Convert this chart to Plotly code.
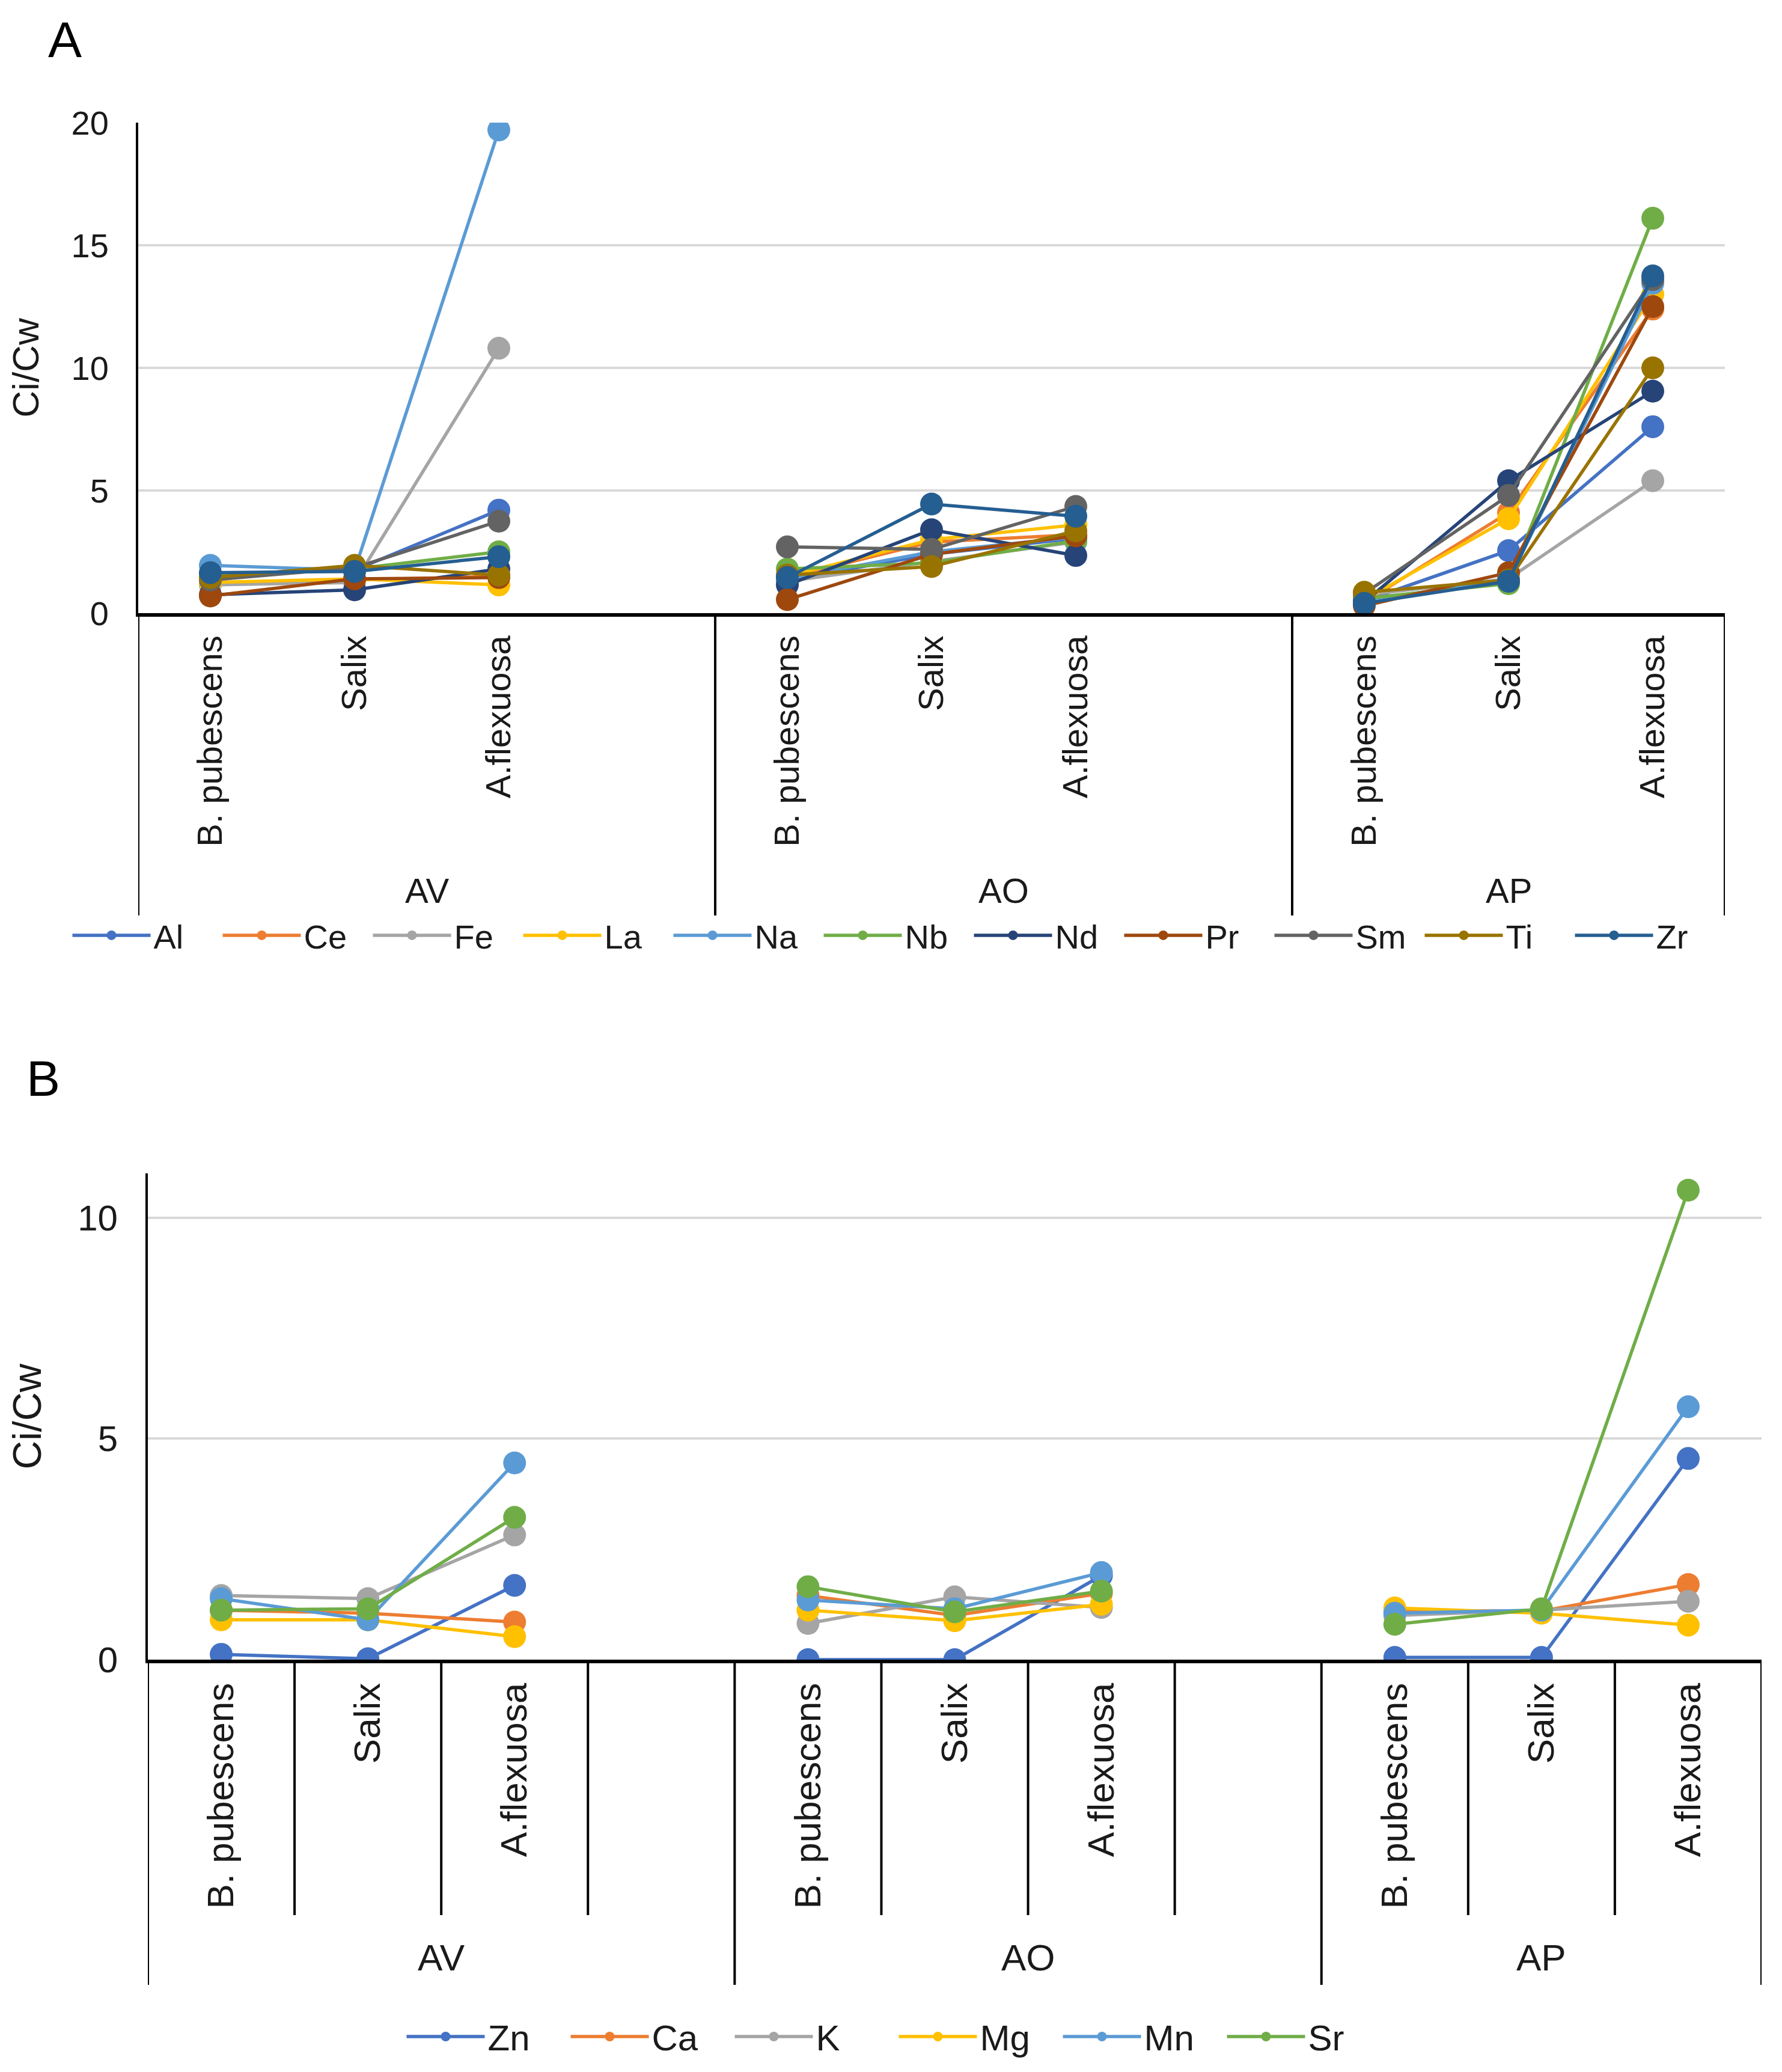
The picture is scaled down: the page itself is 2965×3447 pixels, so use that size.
import plotly.graph_objects as go

# ---------------- data ----------------
groups = ["AV", "AO", "AP"]
species = ["B. pubescens", "Salix", "A.flexuosa"]

# Panel A values: AV(B,S,A), AO(B,S,A), AP(B,S,A)
elements_a = ["Al", "Ce", "Fe", "La", "Na", "Nb", "Nd", "Pr", "Sm", "Ti", "Zr"]
Al = [1.60, 1.75, 4.20, 1.35, 2.40, 3.05, 0.50, 2.55, 7.60]
Ce = [1.20, 1.35, 1.50, 1.45, 2.90, 3.20, 0.45, 4.10, 12.40]
Fe = [1.15, 1.25, 10.80, 1.30, 2.10, 2.90, 0.75, 1.40, 5.40]
La = [1.25, 1.40, 1.15, 1.50, 3.00, 3.60, 0.55, 3.85, 13.00]
Na = [1.95, 1.75, 19.70, 1.40, 2.50, 3.10, 0.55, 1.30, 13.45]
Nb = [1.50, 1.80, 2.50, 1.80, 2.05, 2.95, 0.60, 1.20, 16.10]
Nd = [0.75, 0.95, 1.80, 1.15, 3.40, 2.35, 0.45, 5.40, 9.05]
Pr = [0.70, 1.40, 1.45, 0.55, 2.40, 3.15, 0.30, 1.65, 12.50]
Sm = [1.35, 1.85, 3.75, 2.70, 2.60, 4.35, 0.80, 4.80, 13.60]
Ti = [1.45, 1.95, 1.55, 1.55, 1.90, 3.35, 0.85, 1.35, 10.00]
Zr = [1.65, 1.70, 2.30, 1.45, 4.45, 3.95, 0.40, 1.30, 13.75]
values_a = [Al, Ce, Fe, La, Na, Nb, Nd, Pr, Sm, Ti, Zr]
colors_a = ["#4472C4", "#ED7D31", "#A5A5A5", "#FFC000", "#5B9BD5", "#70AD47",
            "#264478", "#9E480E", "#636363", "#997300", "#255E91"]

# Panel B values
elements_b = ["Zn", "Ca", "K", "Mg", "Mn", "Sr"]
Zn = [0.12, 0.02, 1.68, 0.00, 0.00, 1.90, 0.05, 0.05, 4.55]
Ca = [1.12, 1.05, 0.85, 1.45, 1.00, 1.50, 1.10, 1.10, 1.70]
K = [1.45, 1.38, 2.82, 0.82, 1.42, 1.18, 1.00, 1.12, 1.32]
Mg = [0.90, 0.90, 0.52, 1.12, 0.88, 1.25, 1.17, 1.05, 0.78]
Mn = [1.38, 0.90, 4.45, 1.35, 1.15, 1.97, 1.05, 1.12, 5.72]
Sr = [1.12, 1.15, 3.22, 1.65, 1.08, 1.55, 0.80, 1.15, 10.62]
values_b = [Zn, Ca, K, Mg, Mn, Sr]
colors_b = ["#4472C4", "#ED7D31", "#A5A5A5", "#FFC000", "#5B9BD5", "#70AD47"]

# ---------------- layout constants ----------------
W, H = 2965, 3447
FONT = "Liberation Sans, Arial, sans-serif"
TXT = "#1a1a1a"
SLOTS = 4  # AV and AO have an empty 4th slot; AP has 3


def positions():
    pos = []
    for g in range(len(groups)):
        for s in range(len(species)):
            pos.append(g * SLOTS + s)
    return pos


POS = positions()
NCAT = (len(groups) - 1) * SLOTS + len(species)  # 11
XALL = list(range(NCAT))


def expand(vals):
    y = [None] * NCAT
    for p, v in zip(POS, vals):
        y[p] = v
    return y


fig = go.Figure()

for name, vals, col in zip(elements_a, values_a, colors_a):
    fig.add_trace(go.Scatter(
        x=XALL, y=expand(vals), mode="lines+markers", name=name,
        line=dict(color=col, width=5.5), marker=dict(color=col, size=38),
        xaxis="x", yaxis="y", legend="legend", connectgaps=False))

for name, vals, col in zip(elements_b, values_b, colors_b):
    fig.add_trace(go.Scatter(
        x=XALL, y=expand(vals), mode="lines+markers", name=name,
        line=dict(color=col, width=5.5), marker=dict(color=col, size=38),
        xaxis="x2", yaxis="y2", legend="legend2", connectgaps=False))

# domains in paper coordinates (margins = 0)
A_x = [222 / W, 2862 / W]
A_y = [1 - 1012 / H, 1 - 196 / H]
A_bottom = 1 - 1515 / H
B_x = [238 / W, 2923 / W]
B_y = [1 - 2753 / H, 1 - 1944 / H]
B_tick_bottom = 1 - 3178 / H
B_bottom = 1 - 3294 / H

xr = [-0.5, NCAT - 0.5]

common_x = dict(range=xr, showgrid=False, zeroline=False, showline=True,
                linecolor="black", linewidth=6, ticks="", tickangle=-90,
                tickvals=POS, ticktext=species * len(groups),
                ticklabelstandoff=8, fixedrange=True, automargin=False)
common_y = dict(showgrid=True, gridcolor="#D9D9D9", gridwidth=4,
                zeroline=False, showline=True, linecolor="black", linewidth=4,
                ticks="", ticklabelstandoff=34, automargin=False,
                fixedrange=True)

fig.update_layout(
    template="none",
    width=W, height=H, margin=dict(l=0, r=0, t=0, b=0, autoexpand=False),
    paper_bgcolor="white", plot_bgcolor="white",
    font=dict(family=FONT, color=TXT, size=56),
    xaxis=dict(domain=A_x, anchor="y", tickfont=dict(size=58), **common_x),
    yaxis=dict(domain=A_y, anchor="x", range=[0, 20], dtick=5,
               tickfont=dict(size=56),
               title=dict(text="Ci/Cw", font=dict(size=62), standoff=40),
               **common_y),
    xaxis2=dict(domain=B_x, anchor="y2", tickfont=dict(size=62), **common_x),
    yaxis2=dict(domain=B_y, anchor="x2", range=[0, 11], tickvals=[0, 5, 10],
                tickfont=dict(size=60),
                title=dict(text="Ci/Cw", font=dict(size=66), standoff=40),
                **common_y),
    legend=dict(orientation="h", x=0.5, xanchor="center", y=1 - 1548 / H,
                yanchor="middle", font=dict(size=56), itemwidth=130,
                entrywidth=105, entrywidthmode="pixels",
                bgcolor="rgba(0,0,0,0)", borderwidth=0),
    legend2=dict(orientation="h", x=0.5, xanchor="center", y=1 - 3380 / H,
                 yanchor="middle", font=dict(size=60), itemwidth=130,
                 entrywidth=128, entrywidthmode="pixels",
                 bgcolor="rgba(0,0,0,0)", borderwidth=0),
    showlegend=True,
)

shapes = []
# Panel A: y-axis extension, group separators, right edge
for xv in [-0.5, 3.5, 7.5, NCAT - 0.5]:
    shapes.append(dict(type="line", xref="x", yref="paper", x0=xv, x1=xv,
                       y0=A_y[0], y1=A_bottom, line=dict(color="black", width=4)))
# Panel B: category separators (short) and group separators (long)
for i in range(NCAT + 1):
    xv = i - 0.5
    long_ = (i % SLOTS == 0) or i == NCAT
    shapes.append(dict(type="line", xref="x2", yref="paper", x0=xv, x1=xv,
                       y0=B_y[0], y1=B_bottom if long_ else B_tick_bottom,
                       line=dict(color="black", width=4)))
fig.update_layout(shapes=shapes)

ann = []
centers = [1.5, 5.5, 9.0]
for g, c in zip(groups, centers):
    ann.append(dict(text=g, x=c, xref="x", y=1 - 1474 / H, yref="paper",
                    showarrow=False, font=dict(size=58), xanchor="center",
                    yanchor="middle"))
    ann.append(dict(text=g, x=c, xref="x2", y=1 - 3248 / H, yref="paper",
                    showarrow=False, font=dict(size=62), xanchor="center",
                    yanchor="middle"))
ann.append(dict(text="A", x=100 / W, y=1 - 58 / H, xref="paper", yref="paper",
                showarrow=False, font=dict(size=84, color="black"),
                xanchor="center", yanchor="middle"))
ann.append(dict(text="B", x=64 / W, y=1 - 1786 / H, xref="paper", yref="paper",
                showarrow=False, font=dict(size=84, color="black"),
                xanchor="center", yanchor="middle"))
fig.update_layout(annotations=ann)

fig.write_html("out.html")
